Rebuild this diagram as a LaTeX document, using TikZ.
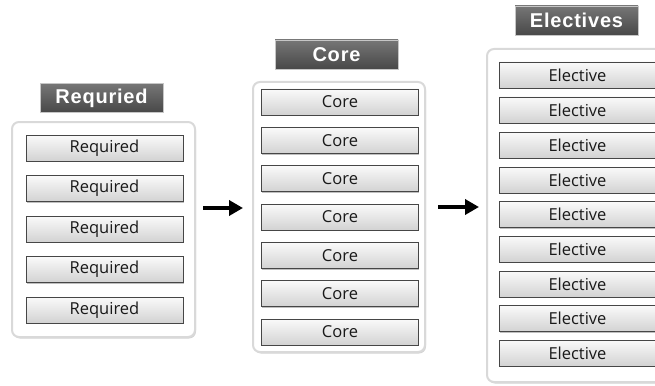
\documentclass[tikz,border=0pt]{standalone}
\usepackage{fontspec}
\setmainfont{Open Sans}
\newfontfamily\headfont[LetterSpace=4]{Liberation Sans}
\usetikzlibrary{shadows,arrows.meta}
\definecolor{headtop}{HTML}{767676}
\definecolor{headbot}{HTML}{484848}
\tikzset{
  panel/.style={draw=gray!30, line width=2pt, fill=white, rounded corners=7pt,
    drop shadow={shadow xshift=1pt, shadow yshift=-1.5pt, opacity=0.35}},
  heading/.style={draw=gray!45, line width=0.8pt, top color=headtop, bottom color=headbot,
    minimum width=123pt, minimum height=29pt, inner sep=0pt, text=white,
    font=\headfont\bfseries\fontsize{20}{20}\selectfont,
    drop shadow={shadow xshift=0.8pt, shadow yshift=-1pt, opacity=0.4}},
  course/.style={draw=gray!55!black, line width=0.8pt, top color=gray!4, bottom color=gray!35,
    minimum width=157pt, minimum height=26pt, inner sep=0pt, text=black!90,
    font=\fontsize{16.5}{16.5}\selectfont,
    drop shadow={shadow xshift=0.8pt, shadow yshift=-1.2pt, opacity=0.5}},
  arr/.style={line width=4pt, -{Triangle[length=14pt,width=15pt]}}
}
\begin{document}
\begin{tikzpicture}[x=1pt,y=-1pt]
    \path[use as bounding box] (0,0) rectangle (655,385);
    \clip (0,0) rectangle (655,385);
    %% required
    \node[panel, minimum width=183pt, minimum height=215pt] (reqpanel) at (103.5,229.5) {};
    \node[heading] (reqhead) at (101.5,98) {Requried};
    \foreach \i/\y in {1/148,2/188.5,3/229,4/269.5,5/310}
        \node[course] (req\i) at (104.5,\y) {Required};
    %% core
    \node[panel, minimum width=172pt, minimum height=270pt] (corepanel) at (339,217) {};
    \node[heading] (corehead) at (336.5,54.5) {Core};
    \foreach \i/\y in {1/102,2/140.5,3/178.5,4/217,5/255.5,6/293.5,7/332}
        \node[course] (core\i) at (340,\y) {Core};
    %% electives
    \node[panel, minimum width=183pt, minimum height=333pt] (elecpanel) at (578.5,215.5) {};
    \node[heading] (elechead) at (576.5,20.5) {Electives};
    \foreach \i/\y in {1/75,2/110,3/145,4/180,5/214.5,6/249,7/284,8/318.5,9/353}
        \node[course] (elec\i) at (577.5,\y) {Elective};
    %% arrows
    \coordinate (a1) at (203,208);
    \coordinate (a2) at (243,208);
    \coordinate (b1) at (438,207);
    \coordinate (b2) at (479,207);
    \draw[arr] (a1) -- (a2);
    \draw[arr] (b1) -- (b2);
\end{tikzpicture}
\end{document}
